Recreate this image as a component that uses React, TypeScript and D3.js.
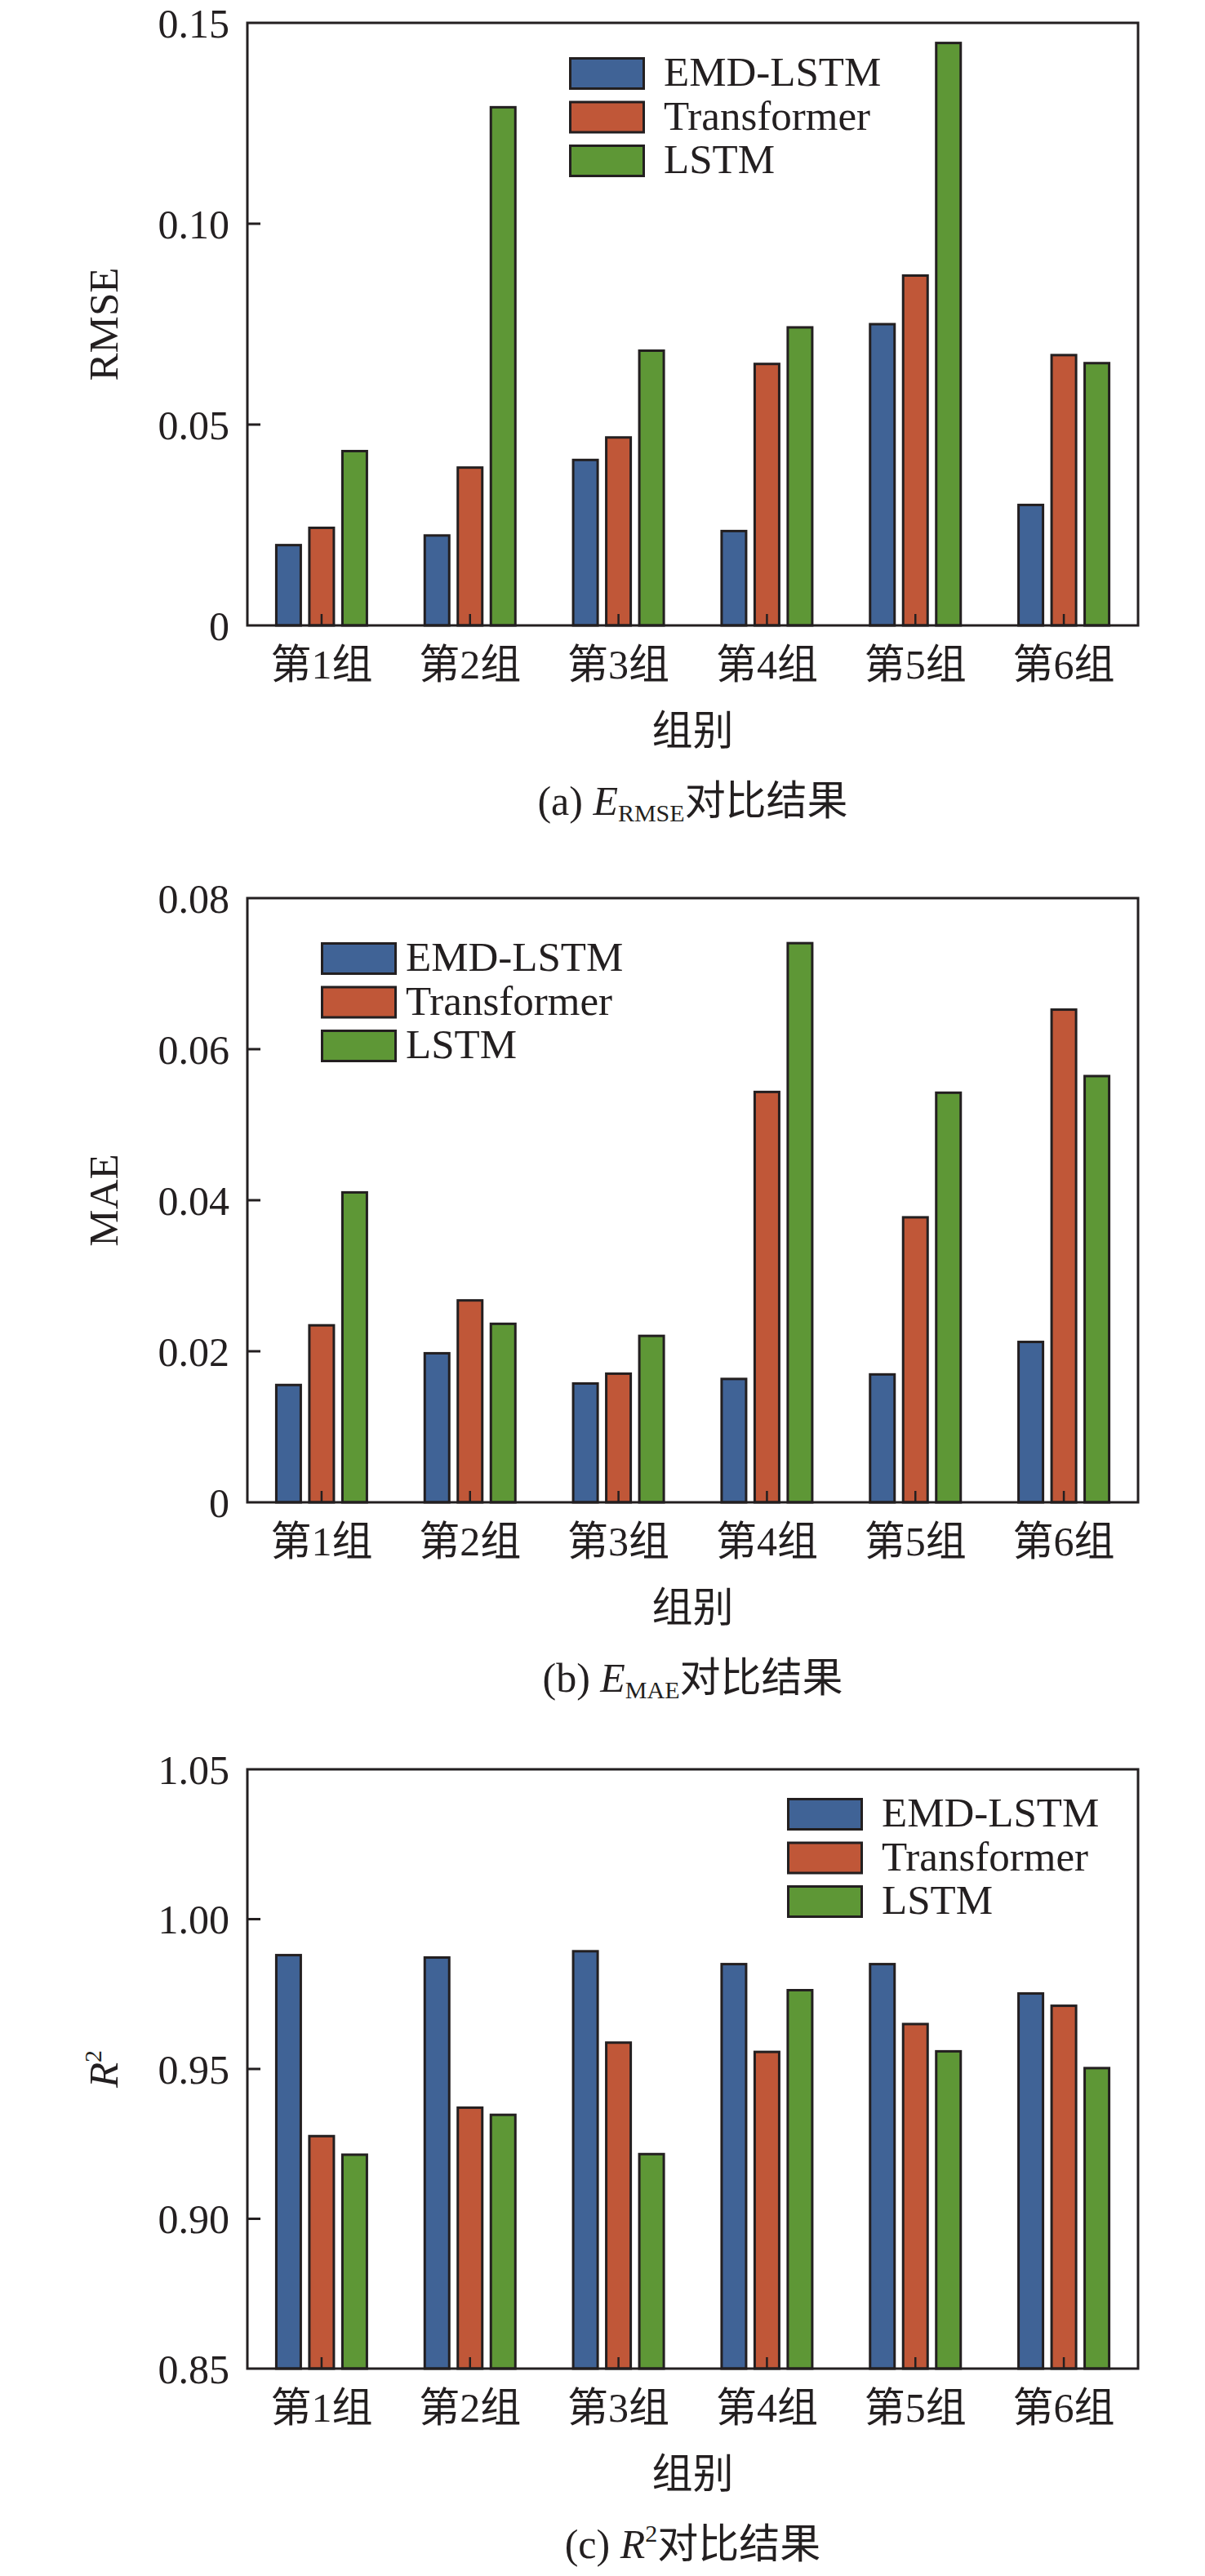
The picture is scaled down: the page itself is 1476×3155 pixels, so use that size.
import React from "react";
import * as d3 from "d3";

// ---------- data ----------
const groups = ["第1组", "第2组", "第3组", "第4组", "第5组", "第6组"];
const seriesNames = ["EMD-LSTM", "Transformer", "LSTM"];
const seriesColors = ["#406396", "#C05738", "#5E9736"];

const rmseEMD = [0.0203, 0.0227, 0.0415, 0.0238, 0.0753, 0.0303];
const rmseTransformer = [0.0246, 0.0396, 0.0471, 0.0654, 0.0874, 0.0676];
const rmseLSTM = [0.0437, 0.1293, 0.0687, 0.0745, 0.1453, 0.0656];

const maeEMD = [0.0157, 0.0199, 0.0159, 0.0165, 0.0171, 0.0214];
const maeTransformer = [0.0236, 0.0269, 0.0172, 0.0545, 0.0379, 0.0654];
const maeLSTM = [0.0412, 0.0238, 0.0222, 0.0742, 0.0544, 0.0566];

const r2EMD = [0.9884, 0.9876, 0.9897, 0.9854, 0.9854, 0.9756];
const r2Transformer = [0.928, 0.9375, 0.9592, 0.9561, 0.9654, 0.9715];
const r2LSTM = [0.9218, 0.9351, 0.922, 0.9767, 0.9563, 0.9507];

const rmseTicks = [0, 0.05, 0.1, 0.15];
const rmseTickLabels = ["0", "0.05", "0.10", "0.15"];
const maeTicks = [0, 0.02, 0.04, 0.06, 0.08];
const maeTickLabels = ["0", "0.02", "0.04", "0.06", "0.08"];
const r2Ticks = [0.85, 0.9, 0.95, 1.0, 1.05];
const r2TickLabels = ["0.85", "0.90", "0.95", "1.00", "1.05"];

const xAxisTitle = "组别";

// ---------- layout ----------
const W = 1476;
const H = 3155;
const LEFT = 303;
const RIGHT = 1394;
const INK = "#231F20";
const FONT = "'Liberation Serif', 'Times New Roman', 'Noto Sans CJK SC', serif";

type Panel = {
  key: string;
  top: number;
  bottom: number;
  domain: [number, number];
  ticks: number[];
  tickLabels: string[];
  values: number[][];
  yTitle: React.ReactNode;
  caption: React.ReactNode;
  legend: { x: number; y: number; textX: number };
};

const panels: Panel[] = [
  {
    key: "rmse",
    top: 28,
    bottom: 766,
    domain: [0, 0.15],
    ticks: rmseTicks,
    tickLabels: rmseTickLabels,
    values: [rmseEMD, rmseTransformer, rmseLSTM],
    yTitle: <tspan>RMSE</tspan>,
    caption: (
      <>
        <tspan>(a) </tspan>
        <tspan fontStyle="italic">E</tspan>
        <tspan fontSize={30} dy={8}>RMSE</tspan>
        <tspan dy={-8}>对比结果</tspan>
      </>
    ),
    legend: { x: 697, y: 70, textX: 813 },
  },
  {
    key: "mae",
    top: 1100,
    bottom: 1840,
    domain: [0, 0.08],
    ticks: maeTicks,
    tickLabels: maeTickLabels,
    values: [maeEMD, maeTransformer, maeLSTM],
    yTitle: <tspan>MAE</tspan>,
    caption: (
      <>
        <tspan>(b) </tspan>
        <tspan fontStyle="italic">E</tspan>
        <tspan fontSize={30} dy={8}>MAE</tspan>
        <tspan dy={-8}>对比结果</tspan>
      </>
    ),
    legend: { x: 393, y: 1154, textX: 497 },
  },
  {
    key: "r2",
    top: 2167,
    bottom: 2901,
    domain: [0.85, 1.05],
    ticks: r2Ticks,
    tickLabels: r2TickLabels,
    values: [r2EMD, r2Transformer, r2LSTM],
    yTitle: (
      <>
        <tspan fontStyle="italic">R</tspan>
        <tspan fontSize={30} dy={-20}>2</tspan>
      </>
    ),
    caption: (
      <>
        <tspan>(c) </tspan>
        <tspan fontStyle="italic">R</tspan>
        <tspan fontSize={30} dy={-20}>2</tspan>
        <tspan dy={20}>对比结果</tspan>
      </>
    ),
    legend: { x: 964, y: 2202, textX: 1080 },
  },
];

const xScale = d3.scaleBand<string>().domain(groups).range([LEFT, RIGHT]).paddingInner(0).paddingOuter(0);
const subScale = d3
  .scaleBand<string>()
  .domain(seriesNames)
  .range([-57, 57])
  .paddingInner(0.185)
  .paddingOuter(0);

function PanelView({ p }: { p: Panel }) {
  const y = d3.scaleLinear().domain(p.domain).range([p.bottom, p.top]);
  const cx = (LEFT + RIGHT) / 2;
  const cy = (p.top + p.bottom) / 2;
  const bw = subScale.bandwidth();
  return (
    <g>
      {/* bars */}
      {groups.map((g, gi) => (
        <g key={g}>
          {seriesNames.map((s, si) => {
            const v = p.values[si][gi];
            const x0 = (xScale(g) as number) + xScale.bandwidth() / 2 + (subScale(s) as number);
            return (
              <rect
                key={s}
                x={x0 + 1.5}
                y={y(v) + 1.5}
                width={bw - 3}
                height={p.bottom - y(v) - 1.5}
                fill={seriesColors[si]}
                stroke={INK}
                strokeWidth={3}
              />
            );
          })}
        </g>
      ))}
      {/* frame */}
      <rect x={LEFT} y={p.top} width={RIGHT - LEFT} height={p.bottom - p.top} fill="none" stroke={INK} strokeWidth={3} />
      {/* y ticks */}
      {p.ticks.map((t, i) => (
        <g key={t}>
          {i > 0 && i < p.ticks.length - 1 && (
            <line x1={LEFT} x2={LEFT + 16} y1={y(t)} y2={y(t)} stroke={INK} strokeWidth={3} />
          )}
          <text
            x={281}
            y={y(t)}
            dy="0.35em"
            textAnchor="end"
            fontSize={50}
            fontFamily={FONT}
            fill={INK}
          >
            {p.tickLabels[i]}
          </text>
        </g>
      ))}
      {/* x ticks */}
      {groups.map((g) => {
        const gx = (xScale(g) as number) + xScale.bandwidth() / 2;
        return (
          <g key={g}>
            <line x1={gx} x2={gx} y1={p.bottom} y2={p.bottom - 14} stroke={INK} strokeWidth={2.5} />
            <text x={gx} y={p.bottom + 65} textAnchor="middle" fontSize={50} fontFamily={FONT} fill={INK}>
              {g}
            </text>
          </g>
        );
      })}
      {/* y title */}
      <text
        transform={`translate(144,${cy}) rotate(-90)`}
        textAnchor="middle"
        fontSize={51}
        fontFamily={FONT}
        fill={INK}
      >
        {p.yTitle}
      </text>
      {/* x title */}
      <text x={cx} y={p.bottom + 146} textAnchor="middle" fontSize={50} fontFamily={FONT} fill={INK}>
        {xAxisTitle}
      </text>
      {/* caption */}
      <text x={cx} y={p.bottom + 232} textAnchor="middle" fontSize={50} fontFamily={FONT} fill={INK}>
        {p.caption}
      </text>
      {/* legend */}
      {seriesNames.map((s, si) => {
        const ry = p.legend.y + si * 53.5;
        return (
          <g key={s}>
            <rect x={p.legend.x + 1.5} y={ry + 1.5} width={90} height={37} fill={seriesColors[si]} stroke={INK} strokeWidth={3} />
            <text x={p.legend.textX} y={ry + 20 + 15} fontSize={51} fontFamily={FONT} fill={INK}>
              {s}
            </text>
          </g>
        );
      })}
    </g>
  );
}

export default function App() {
  return (
    <svg
      width={W}
      height={H}
      viewBox={`0 0 ${W} ${H}`}
      style={{ position: "absolute", left: 0, top: 0, display: "block", background: "#fff" }}
    >
      <rect x={0} y={0} width={W} height={H} fill="#fff" />
      {panels.map((p) => (
        <PanelView key={p.key} p={p} />
      ))}
    </svg>
  );
}
